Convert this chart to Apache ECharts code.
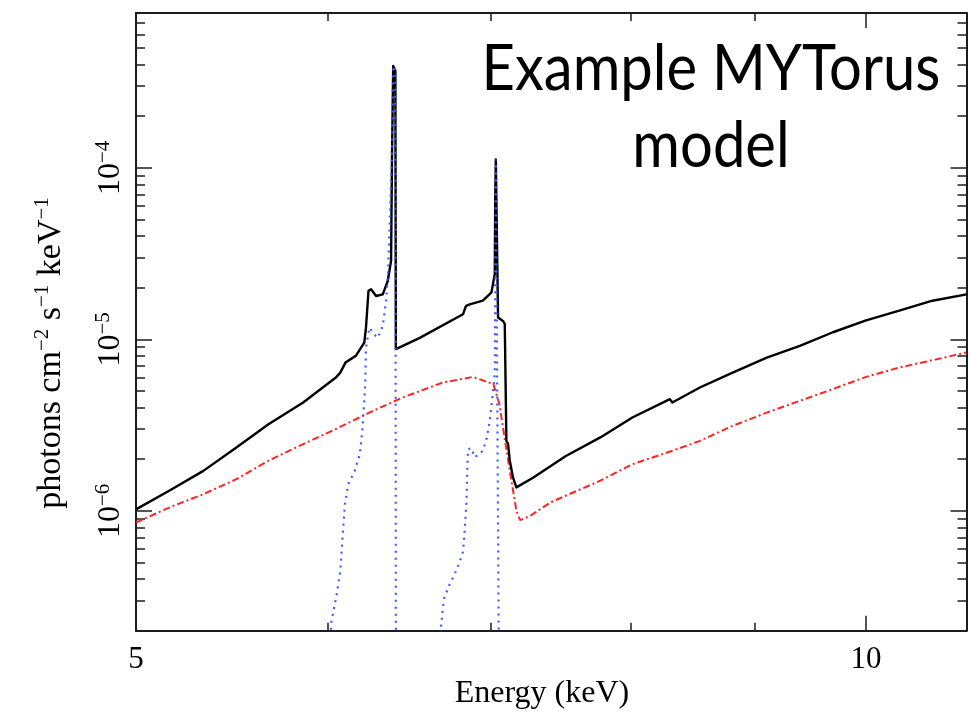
<!DOCTYPE html>
<html>
<head>
<meta charset="utf-8">
<script src="https://cdn.jsdelivr.net/npm/echarts@6/dist/echarts.min.js"></script>
<style>
  html, body { margin: 0; padding: 0; background: #ffffff; }
  #chart { width: 969px; height: 717px; }
</style>
</head>
<body>
<div id="chart"></div>
<script>
// Total model spectrum (keV, photons cm^-2 s^-1 keV^-1)
const energyTotal = [5.00, 5.16, 5.33, 5.50, 5.67, 5.86, 5.97, 6.045, 6.07, 6.10, 6.16, 6.21, 6.22, 6.235,
  6.25, 6.28, 6.32, 6.35, 6.37, 6.376, 6.383, 6.396, 6.399, 6.546, 6.82, 6.84, 6.864, 6.95, 7.007, 7.029,
  7.032, 7.036, 7.042, 7.051, 7.084, 7.096, 7.107, 7.118, 7.13, 7.152, 7.175, 7.289, 7.52, 7.77, 8.01,
  8.30, 8.32, 8.54, 8.81, 9.10, 9.39, 9.69, 10.0, 10.32, 10.65, 11.0];
const fluxTotal = [1.02e-6, 1.31e-6, 1.71e-6, 2.34e-6, 3.20e-6, 4.28e-6, 5.24e-6, 5.99e-6, 6.40e-6, 7.32e-6,
  8.01e-6, 9.58e-6, 1.17e-5, 1.92e-5, 1.96e-5, 1.79e-5, 1.83e-5, 2.19e-5, 2.87e-5, 1.26e-4, 3.93e-4, 3.68e-4,
  8.77e-6, 1.02e-5, 1.40e-5, 1.57e-5, 1.60e-5, 1.68e-5, 1.88e-5, 2.41e-5, 6.42e-5, 1.12e-4, 1.10e-4, 1.34e-5,
  1.28e-5, 1.23e-5, 2.56e-6, 2.46e-6, 1.96e-6, 1.56e-6, 1.37e-6, 1.56e-6, 2.09e-6, 2.68e-6, 3.50e-6,
  4.48e-6, 4.28e-6, 5.24e-6, 6.40e-6, 7.83e-6, 9.17e-6, 1.10e-5, 1.29e-5, 1.47e-5, 1.68e-5, 1.83e-5];

// Scattered continuum
const energyScatter = [5.00, 5.16, 5.33, 5.50, 5.67, 5.86, 6.045, 6.24, 6.44, 6.69, 6.885, 7.02, 7.06, 7.084,
  7.13, 7.175, 7.20, 7.27, 7.41, 7.77, 8.01, 8.32, 8.54, 8.81, 9.10, 9.39, 9.69, 10.0, 10.32, 10.65, 11.0];
const fluxScatter = [8.55e-7, 1.045e-6, 1.25e-6, 1.53e-6, 1.96e-6, 2.45e-6, 3.00e-6, 3.74e-6, 4.58e-6, 5.60e-6,
  6.04e-6, 5.48e-6, 4.19e-6, 3.06e-6, 1.71e-6, 1.00e-6, 8.83e-7, 9.35e-7, 1.12e-6, 1.50e-6, 1.87e-6,
  2.24e-6, 2.56e-6, 3.13e-6, 3.74e-6, 4.38e-6, 5.13e-6, 6.04e-6, 6.85e-6, 7.56e-6, 8.38e-6];

// Fe K-alpha line with Compton shoulder
const energyKalpha = [6.005, 6.02, 6.05, 6.07, 6.078, 6.087, 6.097, 6.116, 6.154, 6.184, 6.20, 6.21, 6.216,
  6.22, 6.24, 6.25, 6.268, 6.29, 6.32, 6.34, 6.352, 6.376, 6.383, 6.396, 6.399];
const fluxKalpha = [1.53e-7, 2.28e-7, 3.28e-7, 4.47e-7, 5.84e-7, 7.99e-7, 1.09e-6, 1.43e-6, 1.71e-6, 2.14e-6,
  3.06e-6, 4.38e-6, 5.73e-6, 8.96e-6, 1.17e-5, 1.20e-5, 1.07e-5, 1.02e-5, 1.20e-5, 1.68e-5, 2.51e-5,
  1.26e-4, 3.93e-4, 3.68e-4, 1.5e-7];

// Fe K-beta line with Compton shoulder
const energyKbeta = [6.67, 6.683, 6.69, 6.70, 6.735, 6.767, 6.788, 6.817, 6.826, 6.832, 6.843, 6.847, 6.853,
  6.875, 6.897, 6.908, 6.95, 6.974, 6.996, 7.013, 7.029, 7.032, 7.036, 7.042, 7.056];
const fluxKbeta = [1.75e-7, 2.28e-7, 2.67e-7, 3.12e-7, 3.74e-7, 4.28e-7, 4.78e-7, 5.59e-7, 6.53e-7, 7.99e-7,
  1.14e-6, 1.64e-6, 2.29e-6, 2.32e-6, 2.05e-6, 2.00e-6, 2.24e-6, 2.62e-6, 3.35e-6, 4.58e-6, 6.27e-6,
  1.92e-5, 1.12e-4, 1.10e-4, 1.5e-7];

// Axis ranges and tick marks
const xRange = [5, 11];
const yRange = [2e-7, 8e-4];
const xMajorTicks = [5, 10];
const xMinorTicks = [6, 7, 8, 9];
const yMajorTicks = [1e-6, 1e-5, 1e-4];
const yMinorTicks = [3e-7, 4e-7, 5e-7, 6e-7, 7e-7, 8e-7, 9e-7,
  2e-6, 3e-6, 4e-6, 5e-6, 6e-6, 7e-6, 8e-6, 9e-6,
  2e-5, 3e-5, 4e-5, 5e-5, 6e-5, 7e-5, 8e-5, 9e-5,
  2e-4, 3e-4, 4e-4, 5e-4, 6e-4, 7e-4];

const lg = Math.log10;
const SERIF = "'Liberation Serif', 'Times New Roman', serif";
const AXIS_COLOR = '#1c1c1c';

// Both axes are logarithmic: plot log10 of the values on linear scales
function toXY(xs, ys) {
  return xs.map((x, i) => [lg(x), lg(ys[i])]);
}

function xAxisDef(position, ticks, len, withLine, withLabels) {
  return {
    type: 'value', position: position,
    min: lg(xRange[0]), max: lg(xRange[1]),
    axisLine: { show: withLine, onZero: false, lineStyle: { color: AXIS_COLOR, width: 2 } },
    axisTick: { show: true, inside: true, length: len, customValues: ticks.map(lg),
      lineStyle: { color: AXIS_COLOR, width: 1.5 } },
    axisLabel: withLabels ? {
      show: true, customValues: ticks.map(lg), margin: 14,
      formatter: v => String(Math.round(Math.pow(10, v))),
      fontFamily: SERIF, fontSize: 31, color: '#000'
    } : { show: false },
    splitLine: { show: false }
  };
}

function yAxisDef(position, ticks, len, withLine, withLabels) {
  return {
    type: 'value', position: position,
    min: lg(yRange[0]), max: lg(yRange[1]),
    axisLine: { show: withLine, onZero: false, lineStyle: { color: AXIS_COLOR, width: 2 } },
    axisTick: { show: true, inside: true, length: len, customValues: ticks.map(lg),
      lineStyle: { color: AXIS_COLOR, width: 1.5 } },
    axisLabel: withLabels ? {
      show: true, customValues: ticks.map(lg), rotate: 90, margin: 9,
      formatter: v => '{b|10}{s|\u2212' + Math.round(-v) + '}',
      rich: {
        b: { fontFamily: SERIF, fontSize: 32, lineHeight: 34, verticalAlign: 'bottom', color: '#000' },
        s: { fontFamily: SERIF, fontSize: 21, lineHeight: 23, verticalAlign: 'top', color: '#000' }
      }
    } : { show: false },
    splitLine: { show: false }
  };
}

const chart = echarts.init(document.getElementById('chart'), null, { renderer: 'canvas' });

chart.setOption({
  animation: false,
  backgroundColor: '#ffffff',
  grid: { left: 136, top: 13, width: 830.5, height: 617.7, outerBoundsMode: 'none' },
  xAxis: [
    xAxisDef('bottom', xMajorTicks, 15, true, true),
    xAxisDef('bottom', xMinorTicks, 8, false, false),
    xAxisDef('top', xMajorTicks, 15, true, false),
    xAxisDef('top', xMinorTicks, 8, false, false)
  ],
  yAxis: [
    yAxisDef('left', yMajorTicks, 16, true, true),
    yAxisDef('left', yMinorTicks, 9, false, false),
    yAxisDef('right', yMajorTicks, 16, true, false),
    yAxisDef('right', yMinorTicks, 9, false, false)
  ],
  series: [
    {
      name: 'total', type: 'line', xAxisIndex: 0, yAxisIndex: 0,
      data: toXY(energyTotal, fluxTotal), symbol: 'none', clip: true,
      lineStyle: { color: '#000000', width: 2.4, join: 'round' }, z: 3
    },
    {
      name: 'scattered', type: 'line', xAxisIndex: 0, yAxisIndex: 0,
      data: toXY(energyScatter, fluxScatter), symbol: 'none', clip: true,
      lineStyle: { color: '#ff2424', width: 2, type: [7, 3, 2, 3] }, z: 2
    },
    {
      name: 'Fe Ka', type: 'line', xAxisIndex: 0, yAxisIndex: 0,
      data: toXY(energyKalpha, fluxKalpha), symbol: 'none', clip: true,
      lineStyle: { color: '#3a5cff', width: 2.2, type: [2, 5] }, z: 4
    },
    {
      name: 'Fe Kb', type: 'line', xAxisIndex: 0, yAxisIndex: 0,
      data: toXY(energyKbeta, fluxKbeta), symbol: 'none', clip: true,
      lineStyle: { color: '#3a5cff', width: 2.2, type: [2, 5] }, z: 4
    }
  ],
  graphic: [
    {
      type: 'text', x: 711, y: 31, scaleX: 0.92, z: 10,
      style: {
        text: 'Example MYTorus\nmodel', align: 'center', verticalAlign: 'top',
        font: "63px Lato, 'Open Sans', sans-serif", lineHeight: 77, fill: '#000'
      }
    },
    {
      type: 'text', x: 542, y: 694, z: 10,
      style: {
        text: 'Energy (keV)', align: 'center', verticalAlign: 'middle',
        font: "32px 'Liberation Serif', 'Times New Roman', serif", fill: '#000'
      }
    },
    {
      type: 'text', x: 50, y: 353, rotation: Math.PI / 2, z: 10,
      style: {
        text: '{t|photons cm}{s|\u22122}{t| s}{s|\u22121}{t| keV}{s|\u22121}',
        align: 'center', verticalAlign: 'middle',
        rich: {
          t: { fontFamily: SERIF, fontSize: 34, lineHeight: 37, verticalAlign: 'bottom', fill: '#000' },
          s: { fontFamily: SERIF, fontSize: 21, lineHeight: 22, verticalAlign: 'top', fill: '#000' }
        }
      }
    }
  ]
});
</script>
</body>
</html>
